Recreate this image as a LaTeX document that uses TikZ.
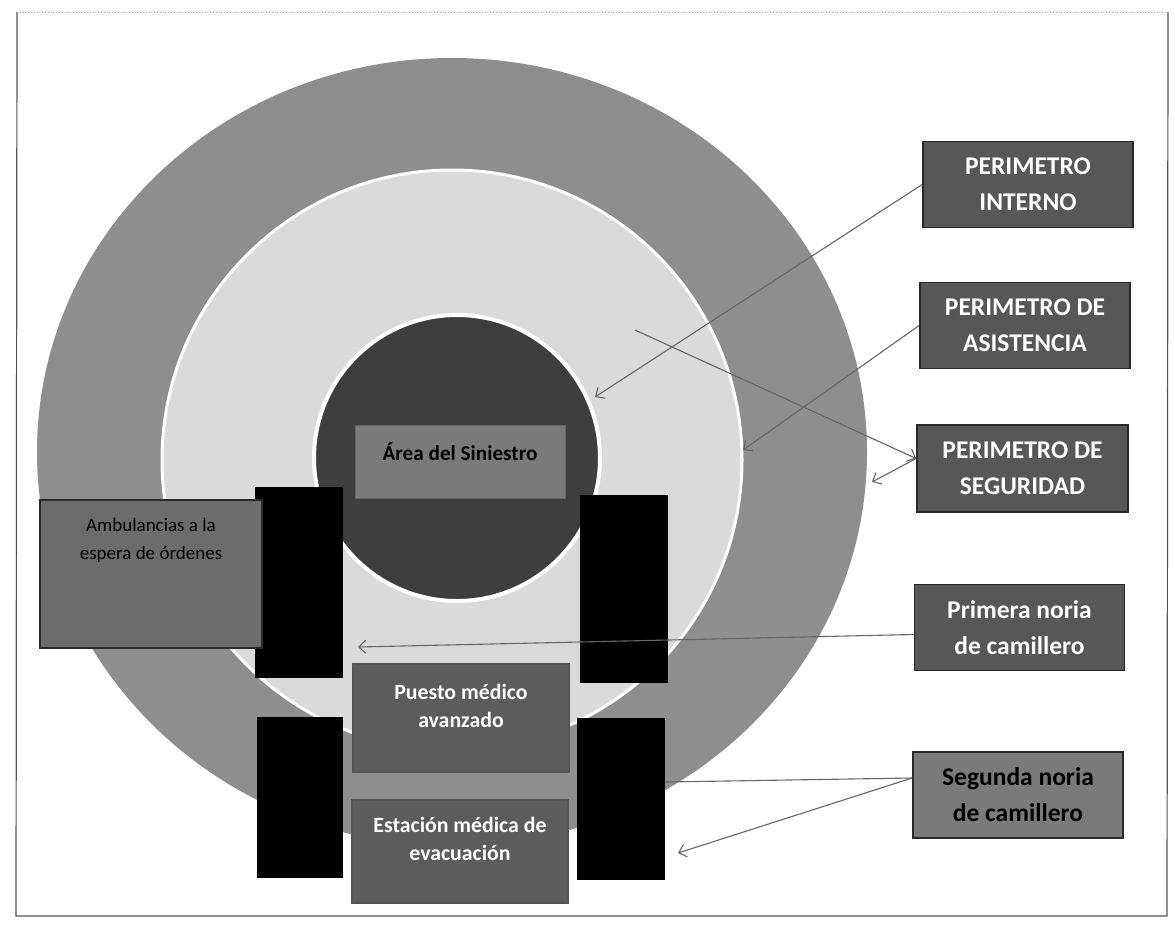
\documentclass[tikz,border=0pt]{standalone}
\usepackage{fontspec}
\setmainfont{Carlito}
\usetikzlibrary{arrows.meta,shapes.geometric,calc}
\definecolor{ringgray}{HTML}{8E8E8E}
\definecolor{lightfill}{HTML}{DADADA}
\definecolor{darkcore}{HTML}{3E3E3E}
\definecolor{boxdark}{HTML}{575757}
\definecolor{boxedge}{HTML}{2A2A2A}
\definecolor{midbox}{HTML}{7A7A7A}
\definecolor{ambbox}{HTML}{6C6C6C}
\definecolor{puestobox}{HTML}{5C5C5C}
\definecolor{arrowgray}{HTML}{666666}
\definecolor{framegray}{HTML}{555555}
\begin{document}
\begin{tikzpicture}[x=1pt,y=-1pt,
  lbl/.style={rectangle, draw=boxedge, line width=1.8pt, fill=boxdark, text=white,
    font=\fontsize{25.5}{36}\selectfont\bfseries, align=center,
    minimum width=210pt, minimum height=86pt, inner sep=0pt},
  blk/.style={rectangle, fill=black, inner sep=0pt},
  midlbl/.style={rectangle, draw=boxedge!80, line width=1.5pt, fill=puestobox, text=white,
    font=\fontsize{21.8}{28}\selectfont\bfseries, align=center, inner sep=0pt},
  conn/.style={draw=arrowgray, line width=1.1pt},
  tip/.style={conn, -{Straight Barb[length=7pt,width=13pt]}},
]
\useasboundingbox (0,0) rectangle (1175,932);
\fill[white] (0,0) rectangle (1175,932);
% page frame
\draw[framegray, line width=1.2pt] (17,12) -- (16,916) -- (1167,916) -- (1168,12);
\draw[framegray!50, line width=0.8pt, dotted] (17,12) -- (1168,12);

% perimeters
\node[ellipse, fill=ringgray, minimum width=830pt, minimum height=788pt, inner sep=0pt] (segring) at (452,452) {};
\node[circle, fill=lightfill, draw=white, line width=3pt, minimum size=580pt, inner sep=0pt] (asisring) at (452,460) {};
\node[circle, fill=darkcore, draw=white, line width=4pt, minimum size=286pt, inner sep=0pt] (intring) at (457,458) {};

% area del siniestro
\node[rectangle, fill=midbox, draw=darkcore!80, line width=1pt, minimum width=210pt, minimum height=73pt,
  inner sep=0pt, text depth=20pt, font=\fontsize{21.2}{24}\selectfont\bfseries] (area) at (460,461.5) {Área del Siniestro};

% black blocks
\node[blk, minimum width=88pt, minimum height=191pt] (b1) at (299,582.5) {};
\node[blk, minimum width=86pt, minimum height=161pt] (b2) at (300,797.5) {};
\node[blk, minimum width=88pt, minimum height=188pt] (b3) at (624,589) {};
\node[blk, minimum width=88pt, minimum height=162pt] (b4) at (621,799) {};

% left / bottom boxes
\node[rectangle, fill=ambbox, draw=boxedge, line width=2pt, minimum width=222pt, minimum height=148pt,
  inner sep=0pt, align=center, text depth=70pt, font=\fontsize{19}{28}\selectfont] (amb) at (151,574)
  {Ambulancias a la\\espera de órdenes};
\node[midlbl, minimum width=216pt, minimum height=108pt, text depth=24pt] (puesto) at (461,718)
  {Puesto médico\\avanzado};
\node[midlbl, minimum width=216pt, minimum height=103pt, text depth=26pt] (estacion) at (460,851.5)
  {Estación médica de\\evacuación};

% right labels
\node[lbl] (interno) at (1028,184.5) {PERIMETRO\\INTERNO};
\node[lbl] (asist) at (1025,325.5) {PERIMETRO DE\\ASISTENCIA};
\node[lbl, minimum width=211pt, minimum height=87pt] (segur) at (1022.5,468.5) {PERIMETRO DE\\SEGURIDAD};
\node[lbl] (primera) at (1019.5,627.5) {Primera noria\\de camillero};
\node[lbl, fill=midbox, text=black] (segunda) at (1018,795) {Segunda noria\\de camillero};

% connector end points
\coordinate (a1) at (595,397);
\coordinate (a2) at (743,450);
\coordinate (s3) at (635,330);
\coordinate (a4) at (872,482);
\coordinate (a5) at (358,647);
\coordinate (a6) at (665,782);
\coordinate (a7) at (678,853);

\draw[tip] (interno.west) -- (a1);
\draw[tip] (asist.west) -- (a2);
\draw[tip] (s3) -- ($(segur.west)+(0,-10)$);
\draw[tip] ($(segur.west)+(0,-10)$) -- (a4);
\draw[tip] ($(primera.west)+(0,7)$) -- (a5);
\draw[conn] ($(segunda.west)+(0,-17)$) -- (a6);
\draw[tip] ($(segunda.west)+(0,-17)$) -- (a7);
\end{tikzpicture}
\end{document}
